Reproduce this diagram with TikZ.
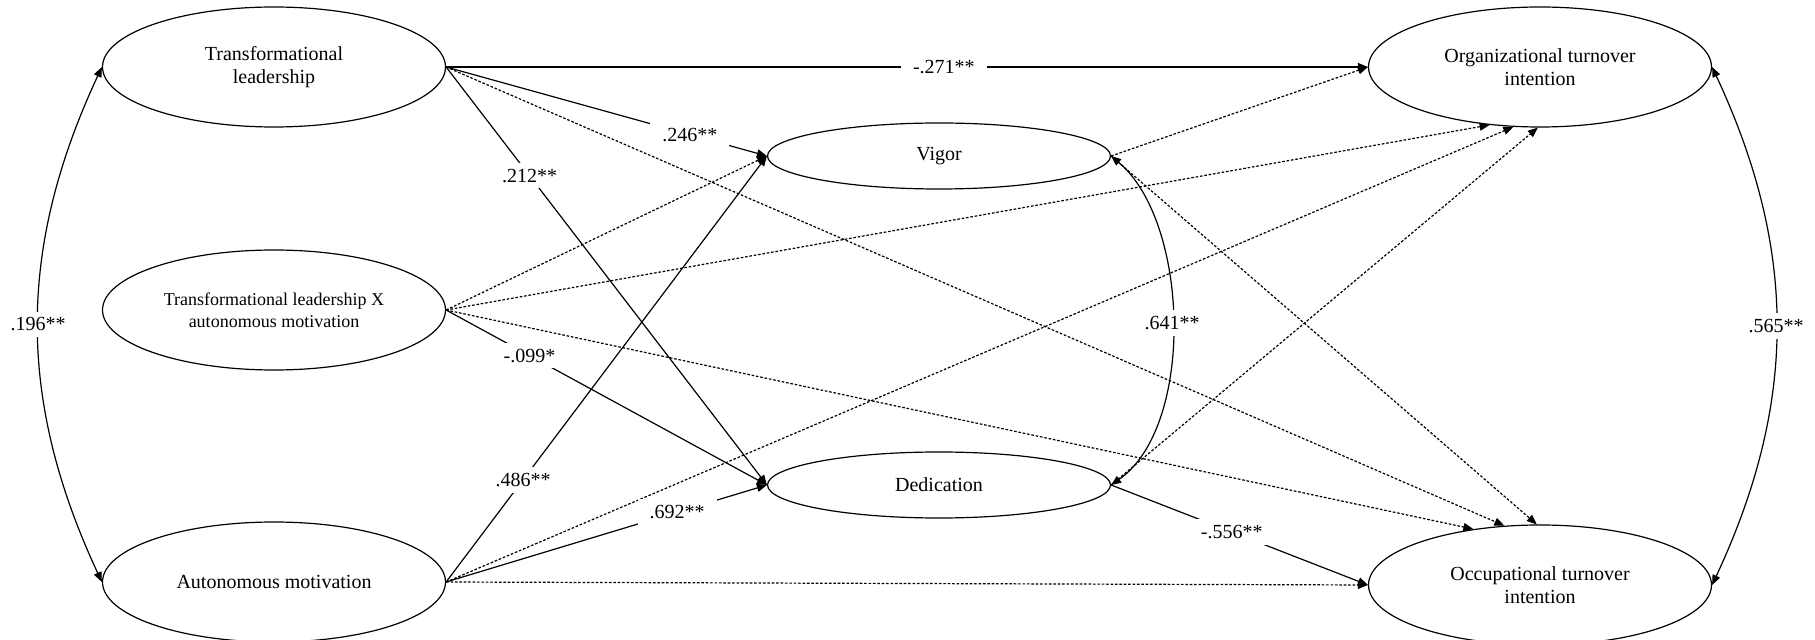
\documentclass[tikz,border=0pt]{standalone}
\usepackage{fontspec}
\setmainfont{Liberation Serif}
\usetikzlibrary{shapes,arrows.meta}
\tikzset{var/.style={
    ellipse,
    draw,
    line width=0.6pt,
    inner sep=0pt,
    align=center,
    minimum width=171.5pt,
    minimum height=60pt,
    font=\fontsize{10}{11.5}\selectfont}}
\tikzset{sig/.style={
    line width=0.6pt,
    -{Triangle[length=5pt,width=4pt]}}}
\tikzset{nonsig/.style={
    sig,
    dash pattern=on 1.3pt off 0.9pt}}
\tikzset{corr/.style={
    line width=0.6pt,
    {Triangle[length=5pt,width=4pt]}-{Triangle[length=5pt,width=4pt]}}}
\tikzset{coef/.style={
    fill=white,
    inner xsep=6pt,
    inner ysep=3pt,
    font=\fontsize{10}{12}\selectfont}}

\begin{document}
\begin{tikzpicture}[x=0.5pt, y=0.5pt]
\useasboundingbox (0,0) rectangle (1815,-640);
\coordinate (TL) at (274,-67);
\coordinate (INT) at (274,-310);
\coordinate (AM) at (274,-582);
\coordinate (VI) at (939,-156);
\coordinate (DE) at (939,-485);
\coordinate (OTI) at (1540,-67);
\coordinate (OCC) at (1540,-585);

\node[var] (tl) at (TL) {Transformational\\leadership};

\node[var,
  font=\fontsize{9}{11}\selectfont] (int) at (INT) {Transformational leadership X\\autonomous motivation};

\node[var] (am) at (AM) {Autonomous motivation};

\node[var,
  minimum height=33pt] (vig) at (VI) {Vigor};

\node[var,
  minimum height=33pt] (ded) at (DE) {Dedication};

\node[var] (oti) at (OTI) {Organizational turnover\\intention};

\node[var] (occ) at (OCC) {Occupational turnover\\intention};

\draw[nonsig] (tl.east) -- (occ.121);
\draw[nonsig] (int.east) -- (vig.west);
\draw[nonsig] (int.east) -- (oti.229);
\draw[nonsig] (int.east) -- (occ.140);
\draw[nonsig] (am.east) -- (oti.246);
\draw[nonsig] (am.east) -- (occ.west);
\draw[nonsig] (vig.east) -- (oti.west);
\draw[nonsig] (vig.east) -- (occ.93);
\draw[nonsig] (ded.east) -- (oti.268);

\draw[sig] (tl.east) -- node[coef, pos=0.54] {-.271**} (oti.west);
\draw[sig] (tl.east) -- node[coef, pos=0.76] {.246**} (vig.west);
\draw[sig] (tl.east) -- node[coef, pos=0.26] {.212**} (ded.west);
\draw[sig] (int.east) -- node[coef, pos=0.26] {-.099*} (ded.west);
\draw[sig] (am.east) -- node[coef, pos=0.24] {.486**} (vig.west);
\draw[sig] (am.east) -- node[coef, pos=0.72] {.692**} (ded.west);
\draw[sig] (ded.east) -- node[coef, pos=0.47] {-.556**} (occ.west);

\draw[corr] (vig.east) to[out=-40, in=35, looseness=0.8] node[coef, inner xsep=1pt] {.641**} (ded.east);
\draw[corr] (tl.west) to[out=245, in=115] node[coef, inner xsep=1pt] {.196**} (am.west);
\draw[corr] (oti.east) to[out=-65, in=65] node[coef, inner xsep=1pt] {.565**} (occ.east);

\end{tikzpicture}
\end{document}
